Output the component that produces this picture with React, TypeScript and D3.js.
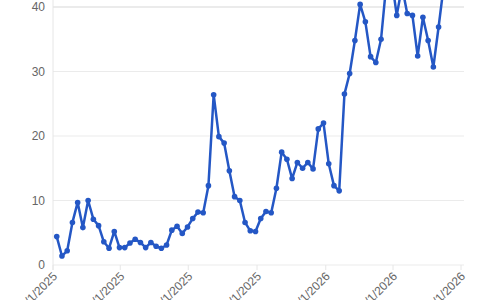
import React from "react";
import * as d3 from "d3";

const startDate = new Date(2025, 0, 6);
const values: number[] = [
  4.4, 1.4, 2.2, 6.6, 9.7, 5.8, 10.0, 7.1, 6.1, 3.6,
  2.6, 5.2, 2.7, 2.7, 3.4, 4.0, 3.5, 2.7, 3.5, 2.9,
  2.6, 3.1, 5.4, 6.0, 4.9, 5.9, 7.2, 8.2, 8.1, 12.3,
  26.4, 19.9, 18.9, 14.6, 10.6, 10.0, 6.6, 5.3, 5.2, 7.2,
  8.3, 8.1, 11.9, 17.5, 16.4, 13.4, 15.9, 15.0, 15.9, 14.9,
  21.1, 22.0, 15.7, 12.3, 11.5, 26.5, 29.7, 34.8, 40.4, 37.7,
  32.3, 31.4, 35.0, 43.5, 44.5, 38.7, 43.2, 39.0, 38.7, 32.4,
  38.4, 34.8, 30.7, 36.9, 43.4,
];
const yTicks = [0, 10, 20, 30, 40];
const xTickDates = [
  new Date(2025, 0, 1), new Date(2025, 3, 1), new Date(2025, 6, 1), new Date(2025, 9, 1),
  new Date(2026, 0, 1), new Date(2026, 3, 1), new Date(2026, 6, 1),
];

const dates = values.map((_, i) => d3.timeDay.offset(startDate, i * 7));

export default function App() {
  const W = 480, H = 300;
  const left = 53, right = 464, y0 = 265, y40 = 7;
  const x = d3.scaleTime().domain([new Date(2025, 0, 1), new Date(2026, 6, 5)]).range([left, right]);
  const y = d3.scaleLinear().domain([0, 40]).range([y0, y40]);
  const line = d3.line<number>().x((_, i) => x(dates[i])).y((d) => y(d));
  const fmt = (d: Date) => `${d.getMonth() + 1}/${d.getDate()}/${d.getFullYear()}`;
  const font = "'Liberation Sans', Arial, sans-serif";
  return (
    <div style={{ position: "fixed", left: 0, top: 0 }}>
      <svg width={W} height={H} style={{ display: "block", overflow: "hidden" }}>
        <rect width={W} height={H} fill="#fff" />
        {yTicks.map((t) => (
          <g key={t}>
            <line x1={left} x2={right} y1={y(t)} y2={y(t)} stroke="#ebebeb" strokeWidth={t === 40 ? 2 : 1} />
            <text x={left - 8} y={y(t)} dy="0.35em" textAnchor="end" fontSize={12} fill="#666" fontFamily={font}>{t}</text>
          </g>
        ))}
        <line x1={left} x2={left} y1={0} y2={y0 + 5} stroke="#e6e6e6" />
        {xTickDates.map((d, i) => (
          <g key={i}>
            <line x1={x(d)} x2={x(d)} y1={y0} y2={y0 + 5} stroke="#e6e6e6" />
            <text transform={`translate(${x(d) + 5},${y0 + 12}) rotate(-45)`} textAnchor="end" fontSize={12} fill="#666" fontFamily={font}>{fmt(d)}</text>
          </g>
        ))}
        <path d={line(values) || ""} fill="none" stroke="#2457c5" strokeWidth={2.5} strokeLinejoin="round" />
        {values.map((v, i) => (
          <circle key={i} cx={x(dates[i])} cy={y(v)} r={2.8} fill="#2457c5" />
        ))}
      </svg>
    </div>
  );
}
